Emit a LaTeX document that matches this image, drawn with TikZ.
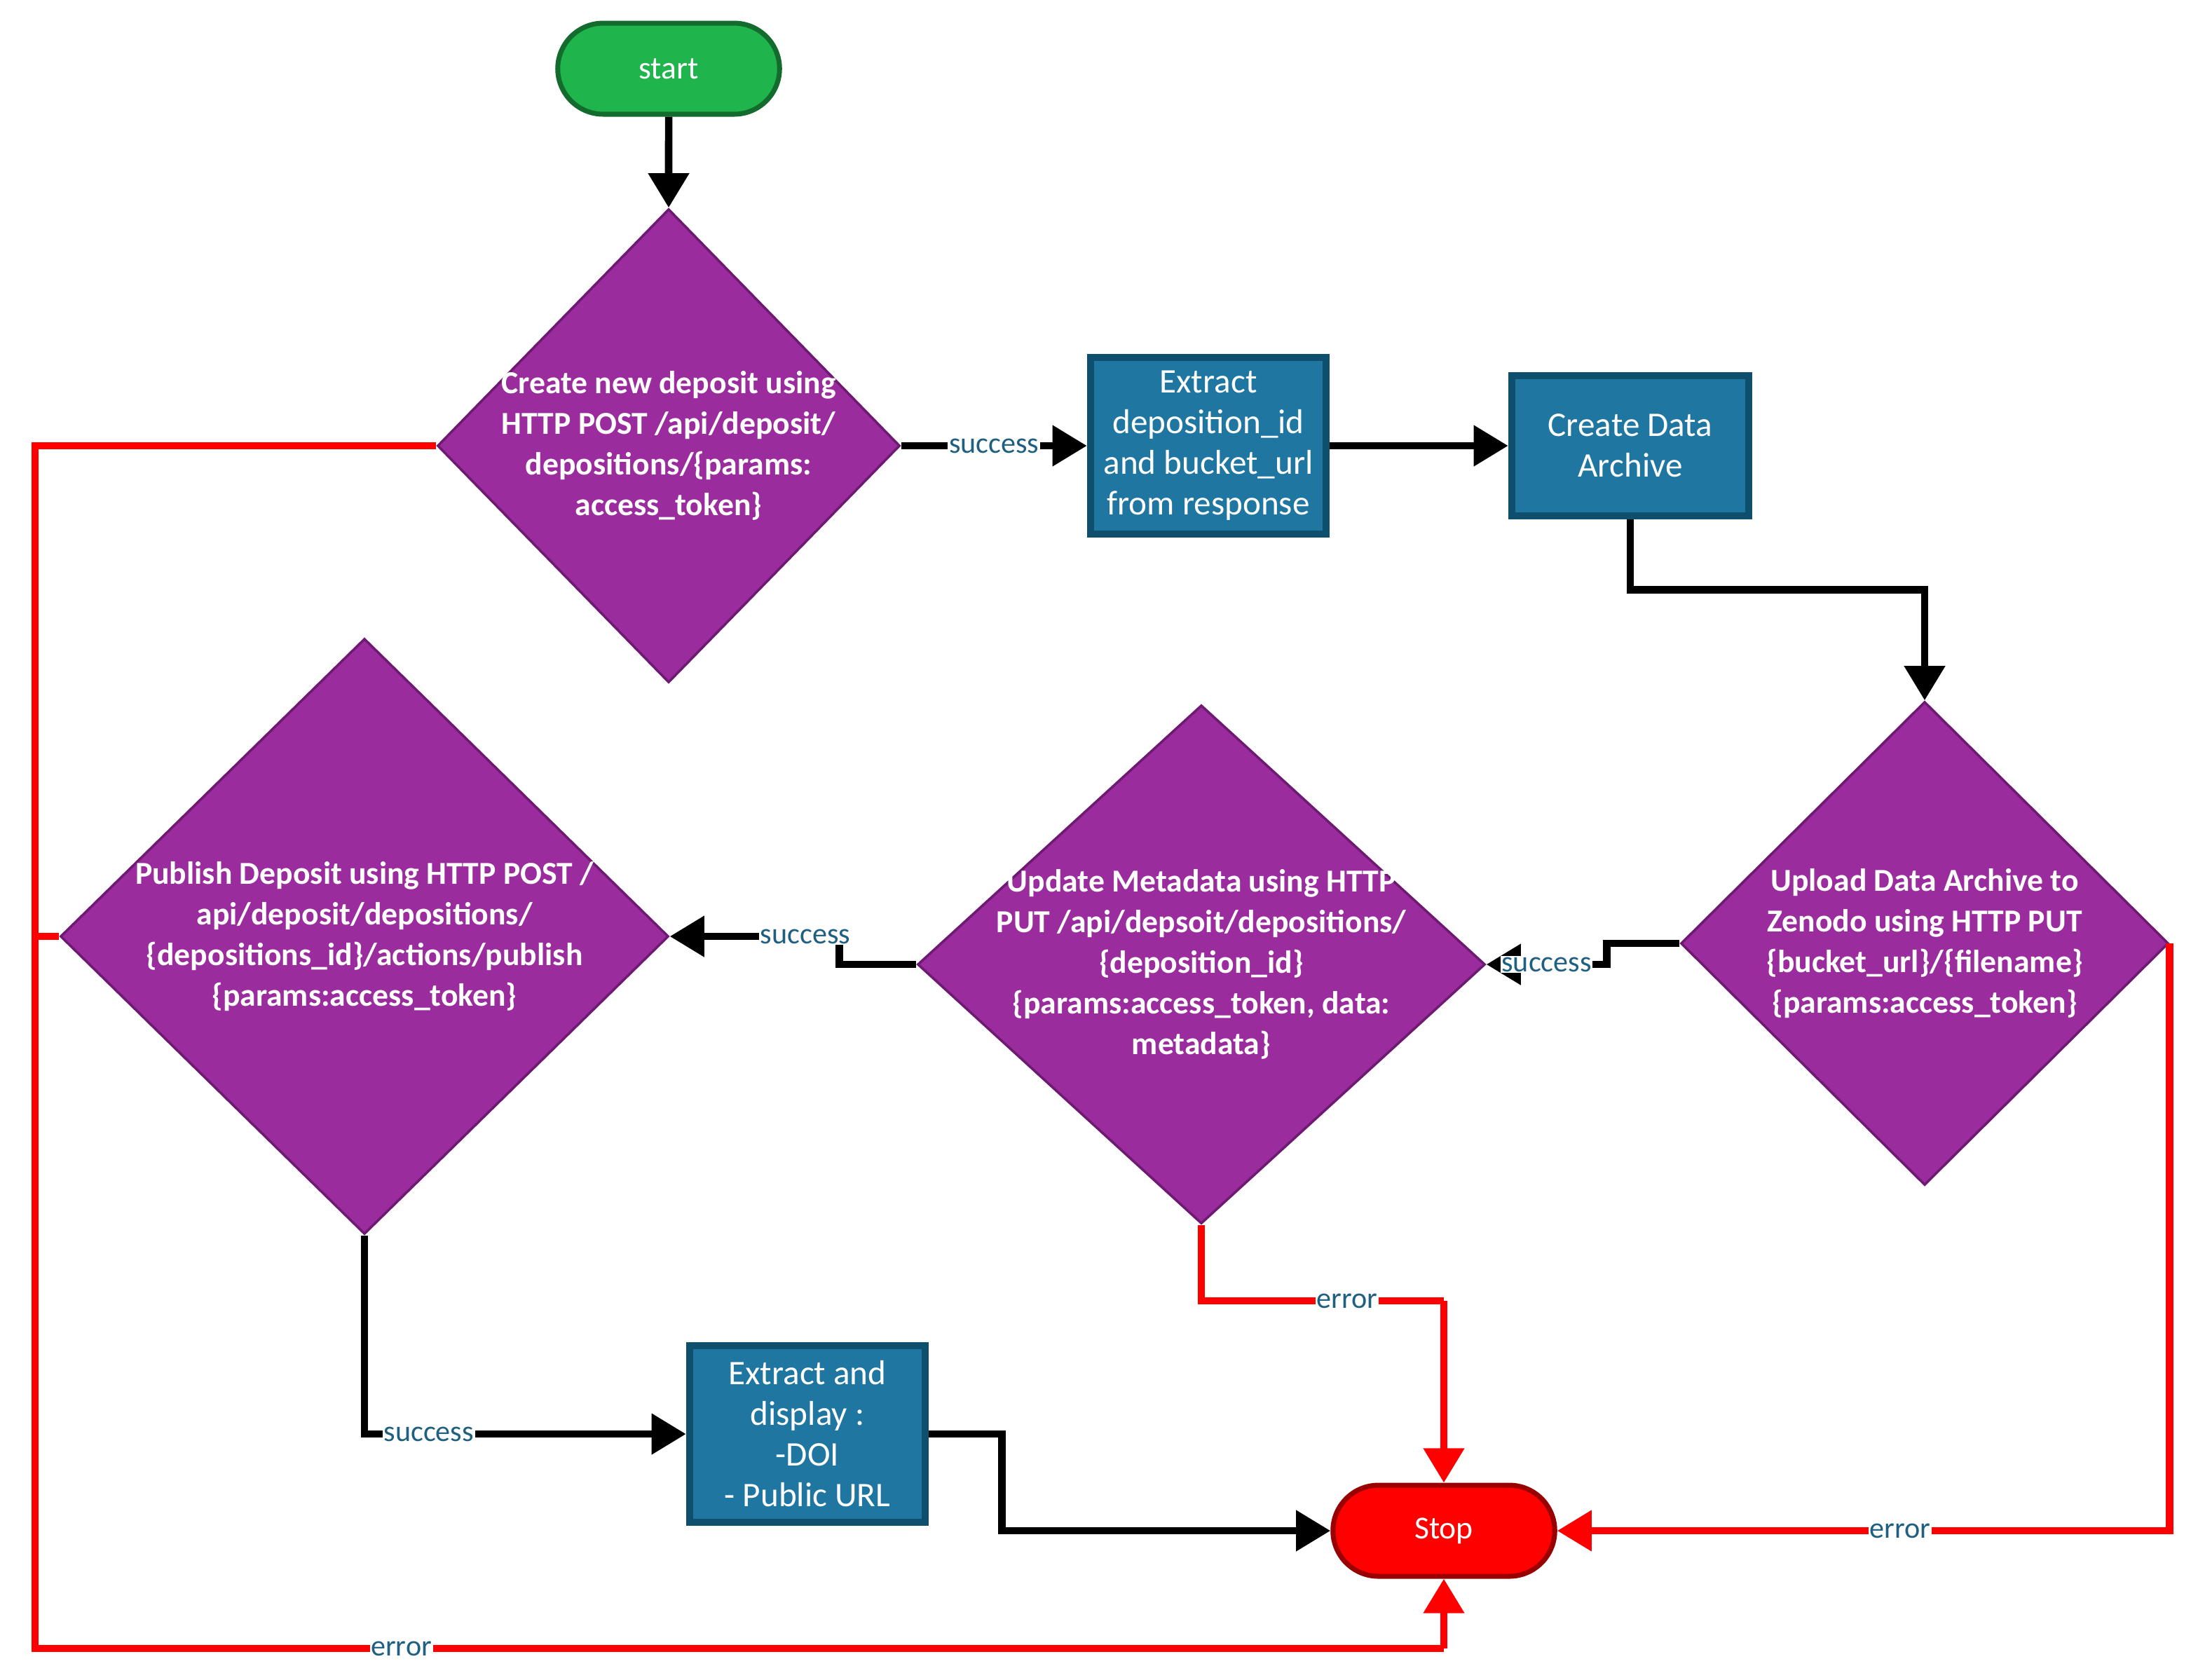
\documentclass[tikz,border=0pt]{standalone}
\usepackage{fontspec}
\setmainfont{Carlito}
\usetikzlibrary{shapes.geometric,shapes.misc,arrows.meta}
\definecolor{pur}{HTML}{9A2C9E}
\definecolor{purd}{HTML}{6E1A72}
\definecolor{teal}{HTML}{1F76A0}
\definecolor{teald}{HTML}{0F4F6E}
\definecolor{grn}{HTML}{1FB44C}
\definecolor{lbl}{HTML}{1F5F80}
\begin{document}
\begin{tikzpicture}[x=0.02cm,y=-0.02cm,
 dia/.style={diamond,fill=pur,draw=purd,line width=1pt,inner sep=0},
 dtext/.style={text=white,font=\bfseries\fontsize{13}{16.5}\selectfont,align=center},
 box/.style={rectangle,fill=teal,draw=teald,line width=3pt,text=white,font=\fontsize{14}{16.5}\selectfont,align=center,inner sep=0},
 term/.style={rounded rectangle,minimum width=3.4cm,minimum height=1.3cm,line width=2pt,text=white,font=\fontsize{13}{15}\selectfont},
 blk/.style={draw=black,line width=3pt,-{Triangle[length=14pt,width=16pt]}},
 red/.style={draw=red,line width=3pt,-{Triangle[length=14pt,width=16pt]}},
 lab/.style={fill=white,inner sep=0.5pt,text=lbl,font=\fontsize{12}{12}\selectfont}]
\useasboundingbox (0,0) rectangle (1568,1198);
% nodes
\node[term,fill=grn,draw=grn!60!black] (start) at (477,49) {start};
\node[term,fill=red,draw=red!60!black] (stop) at (1030,1092) {Stop};
\node[dia,minimum width=6.6cm,minimum height=6.76cm] (d1) at (477,318) {};
\node[dtext] at (d1) {Create new deposit using\\HTTP POST /api/deposit/\\depositions/\{params:\\access\_token\}};
\node[dia,minimum width=6.96cm,minimum height=6.9cm] (d2) at (1373,673) {};
\node[dtext] at (d2) {Upload Data Archive to\\Zenodo using HTTP PUT\\\{bucket\_url\}/\{filename\}\\\{params:access\_token\}};
\node[dia,minimum width=8.1cm,minimum height=7.4cm] (d3) at (857,688) {};
\node[dtext] at (d3) {Update Metadata using HTTP\\PUT /api/depsoit/depositions/\\\{deposition\_id\}\\\{params:access\_token, data:\\metadata\}};
\node[dia,minimum width=8.68cm,minimum height=8.5cm] (d4) at (260,668) {};
\node[dtext] at (d4) {Publish Deposit using HTTP POST /\\api/deposit/depositions/\\\{depositions\_id\}/actions/publish\\\{params:access\_token\}};
\node[box,minimum width=3.36cm,minimum height=2.52cm] (ex) at (862,318) {Extract\\deposition\_id\\and bucket\_url\\from response};
\node[box,minimum width=3.38cm,minimum height=2cm] (cr) at (1163,318) {Create Data\\Archive};
\node[box,minimum width=3.36cm,minimum height=2.52cm] (ed) at (576,1023) {Extract and\\display :\\-DOI\\- Public URL};
\coordinate (c1) at (25,1176);
\coordinate (c2) at (1030,1176);
\coordinate (c3) at (1030,928);
% black connectors
\draw[blk] (start) -- (d1.north);
\draw[blk] (d1.east) -- node[lab]{success} (ex.west);
\draw[blk] (ex.east) -- (cr.west);
\draw[blk] (cr.south) -- ++(0,50) -| (d2.north);
\draw[blk] (d2.west) -- ++(-52,0) |- node[lab,pos=0.75]{success} (d3.east);
\draw[blk] (d3.west) -- ++(-55,0) |- node[lab,pos=0.6]{success} (d4.east);
\draw[blk] (d4.south) |- node[lab,pos=0.6]{success} (ed.west);
\draw[blk] (ed.east) -- ++(52,0) |- (stop.west);
% red connectors
\draw[draw=red,line width=3pt] (d1.west) -| (c1) -- node[lab,pos=0.26]{error} (c2);
\draw[red] (c2) -- (stop.south);
\draw[draw=red,line width=3pt] (d4.west) -- (25,668);
\draw[draw=red,line width=3pt] (d3.south) |- node[lab,pos=0.8]{error} (c3);
\draw[red] (c3) -- (stop.north);
\draw[red] (d2.east) |- node[lab,pos=0.72]{error} (stop.east);
\end{tikzpicture}
\end{document}
